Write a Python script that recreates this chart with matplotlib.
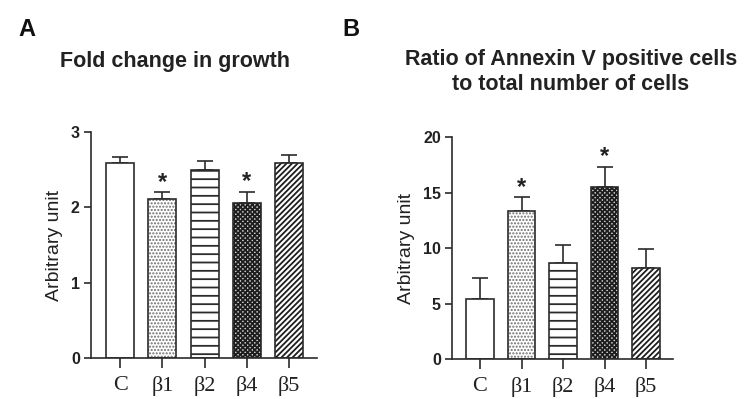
import matplotlib
matplotlib.use("Agg")
import matplotlib.pyplot as plt
import numpy as np

plt.rcParams["font.family"] = ["Liberation Sans", "DejaVu Sans"]
plt.rcParams["hatch.linewidth"] = 1.0

groups = ["C", "β1", "β2", "β4", "β5"]

growth_mean = [2.59, 2.11, 2.50, 2.06, 2.59]
growth_err = [0.08, 0.09, 0.11, 0.15, 0.11]
growth_sig = [False, True, False, True, False]

annexin_mean = [5.4, 13.35, 8.65, 15.5, 8.2]
annexin_err = [1.9, 1.25, 1.6, 1.85, 1.7]
annexin_sig = [False, True, False, True, False]

INK = "#2b2b2b"
# (face, hatch, hatch colour, hatch width) for each group
styles = [
    ("white", None, INK, 1.0),
    ("white", ".....", "#6e6e6e", 1.0),
    ("white", "--", INK, 1.3),
    ("#cfcfcf", "xxxxxxx", "#1e1e1e", 1.3),
    ("white", "//////", "#1e1e1e", 1.3),
]


def draw_panel(ax, means, errs, sig, ylim, yticks, xlim):
    x = np.arange(len(means))
    w = 0.66
    for i, (face, hatch, hcol, hlw) in enumerate(styles):
        b = ax.bar(x[i], means[i], w, color=face, edgecolor=hcol, hatch=hatch,
                   linewidth=0, zorder=2)
        for p in b.patches:
            if hasattr(p, "set_hatch_linewidth"):
                p.set_hatch_linewidth(hlw)
        ax.bar(x[i], means[i], w, fill=False, edgecolor=INK, linewidth=1.2,
               zorder=3)
    ax.errorbar(x, means, yerr=[np.zeros(len(errs)), errs], fmt="none",
                ecolor=INK, elinewidth=1.2, capsize=5.5, capthick=1.2,
                zorder=1)
    for i, s in enumerate(sig):
        if s:
            ax.annotate("*", xy=(x[i], means[i] + errs[i]), xytext=(0, -1),
                        textcoords="offset points", ha="center", va="bottom",
                        fontsize=17, fontweight="bold", color="#222222")
    ax.set_ylim(*ylim)
    ax.set_xlim(*xlim)
    ax.set_yticks(yticks)
    ax.set_xticks(x)
    ax.set_xticklabels(groups, family=["Liberation Serif", "DejaVu Serif"],
                       fontsize=16, color="#222222")
    for lab in ax.get_yticklabels():
        lab.set_fontweight("bold")
        lab.set_fontsize(11.5)
        lab.set_color("#222222")
    ax.spines["top"].set_visible(False)
    ax.spines["right"].set_visible(False)
    for sp in ("left", "bottom"):
        ax.spines[sp].set_color(INK)
        ax.spines[sp].set_linewidth(1.2)
    ax.tick_params(axis="y", direction="out", length=5, width=1.2,
                   color=INK, pad=3)
    ax.tick_params(axis="x", direction="out", length=7, width=1.2,
                   color=INK, pad=6)
    ax.set_ylabel("Arbitrary unit", fontsize=14, color="#222222", labelpad=6)


fig = plt.figure(figsize=(7.45, 3.99), dpi=100)

ax_a = fig.add_axes([0.1221, 0.1028, 0.3034, 0.5664])
draw_panel(ax_a, growth_mean, growth_err, growth_sig, (0, 3), [0, 1, 2, 3],
           (-0.69, 4.66))

ax_b = fig.add_axes([0.6067, 0.1003, 0.2967, 0.5556])
draw_panel(ax_b, annexin_mean, annexin_err, annexin_sig, (0, 20),
           [0, 5, 10, 15, 20], (-0.675, 4.65))

fig.text(27 / 745, 1 - 29 / 399, "A", fontsize=17, fontweight="bold",
         ha="center", va="center", color="#111111")
fig.text(351 / 745, 1 - 29 / 399, "B", fontsize=17, fontweight="bold",
         ha="center", va="center", color="#111111")
fig.text(175 / 745, 1 - 61 / 399, "Fold change in growth", fontsize=15.5,
         fontweight="bold", ha="center", va="center", color="#222222")
fig.text(571 / 745, 1 - 72 / 399,
         "Ratio of Annexin V positive cells\nto total number of cells",
         fontsize=15.5, fontweight="bold", ha="center", va="center",
         color="#222222", linespacing=1.25)

fig.savefig("out.png", dpi=100)
